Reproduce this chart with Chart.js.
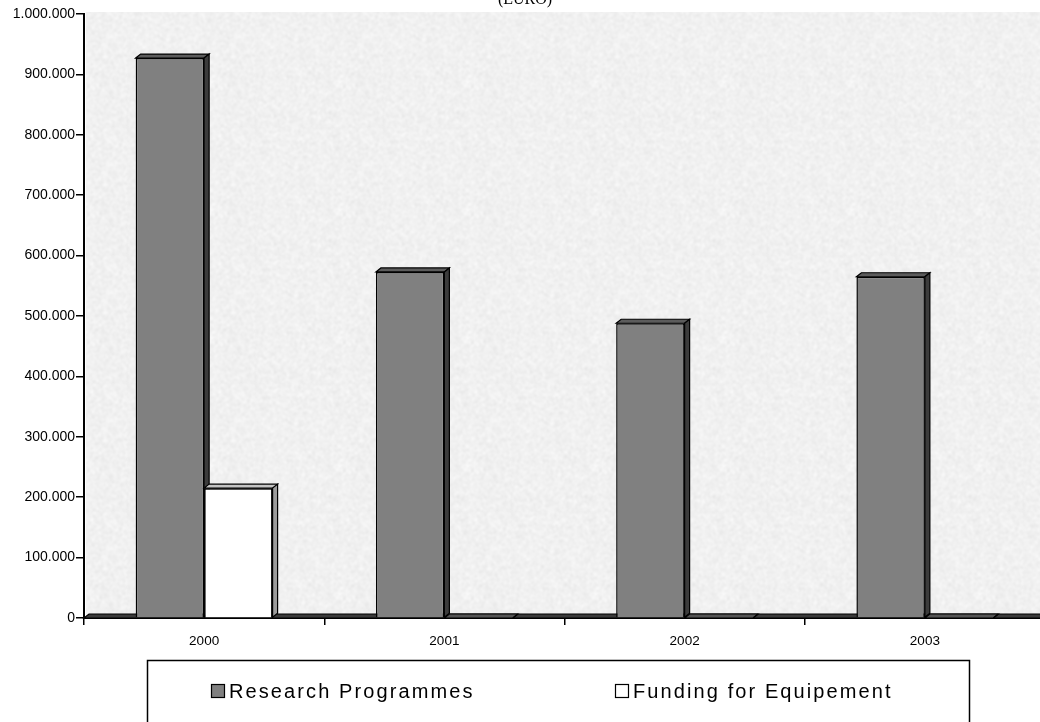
<!DOCTYPE html>
<html>
<head>
<meta charset="utf-8">
<title>Research funding (EURO)</title>
<script src="https://cdn.jsdelivr.net/npm/chart.js@4"></script>
<style>
  html, body { margin: 0; padding: 0; background: #fff; overflow: hidden; }
  #wrap { width: 1046px; height: 722px; position: relative; }
</style>
</head>
<body>
<div id="wrap"><canvas id="chart" width="1046" height="722"></canvas></div>
<script>
// ---- data ----
const years = ['2000', '2001', '2002', '2003'];
const researchProgrammes = [927000, 573000, 488000, 565000];
const fundingForEquipement = [215000, 0, 0, 0];
const seriesNames = ['Research Programmes', 'Funding for Equipement'];
const yTickValues = [0, 100000, 200000, 300000, 400000, 500000, 600000, 700000, 800000, 900000, 1000000];
const chartTitle = '(EURO)';

// ---- styling ----
const SANS = '"Liberation Sans", Arial, sans-serif';
const SERIF = '"Liberation Serif", "Times New Roman", serif';
const DEPTH_X = 5, DEPTH_Y = -4;
const seriesFill = ['#808080', '#ffffff'];
const seriesFaces = [
  { top: '#5c5c5c', side: '#3c3c3c' },
  { top: '#c4c4c4', side: '#9c9c9c' }
];

function dotThousands(v) {
  return String(v).replace(/\B(?=(\d{3})+(?!\d))/g, '.');
}

// speckled stone texture for the back wall
function makeWallPattern(ctx) {
  const size = 128;
  const raw = document.createElement('canvas');
  raw.width = raw.height = size;
  const rc = raw.getContext('2d');
  const img = rc.createImageData(size, size);
  for (let yy = 0; yy < size; yy++) {
    for (let xx = 0; xx < size; xx++) {
      const h = Math.sin(xx * 12.9898 + yy * 78.233) * 43758.5453;
      const n = h - Math.floor(h);
      const g = Math.round(226 + n * 29);
      const i = (yy * size + xx) * 4;
      img.data[i] = g; img.data[i + 1] = g; img.data[i + 2] = g; img.data[i + 3] = 255;
    }
  }
  rc.putImageData(img, 0, 0);
  const soft = document.createElement('canvas');
  soft.width = soft.height = size;
  const sc = soft.getContext('2d');
  sc.fillStyle = '#f1f1f1';
  sc.fillRect(0, 0, size, size);
  sc.filter = 'blur(1.1px)';
  for (let ox = -1; ox <= 1; ox++) for (let oy = -1; oy <= 1; oy++) {
    sc.drawImage(raw, ox * size, oy * size);
  }
  return ctx.createPattern(soft, 'repeat');
}

function fillPoly(ctx, pts, fill) {
  ctx.beginPath();
  ctx.moveTo(pts[0][0], pts[0][1]);
  for (let i = 1; i < pts.length; i++) ctx.lineTo(pts[i][0], pts[i][1]);
  ctx.closePath();
  ctx.fillStyle = fill;
  ctx.fill();
  ctx.stroke();
}

const wallAndFloor = {
  id: 'wallAndFloor',
  beforeDraw(chart) {
    const { ctx, chartArea: a } = chart;
    if (!chart.$wall) chart.$wall = makeWallPattern(ctx);
    ctx.save();
    ctx.fillStyle = chart.$wall;
    ctx.fillRect(a.left + 2, a.top + DEPTH_Y + 2, a.right - a.left, a.bottom - a.top - DEPTH_Y - 2);
    ctx.restore();
  },
  beforeDatasetsDraw(chart) {
    const { ctx, chartArea: a } = chart;
    ctx.save();
    ctx.strokeStyle = '#000';
    ctx.lineWidth = 1.2;
    fillPoly(ctx, [[a.left, a.bottom], [a.left + DEPTH_X, a.bottom + DEPTH_Y],
                   [a.right + DEPTH_X, a.bottom + DEPTH_Y], [a.right, a.bottom]], '#3a3a3a');
    ctx.restore();
  }
};

// top and side faces of each bar; the front series is drawn last so it
// covers the side faces of the bars behind it
const barDepth = {
  id: 'barDepth',
  afterDatasetsDraw(chart) {
    const ctx = chart.ctx;
    ctx.save();
    const faces = (bar, idx) => {
      const f = seriesFaces[idx];
      const p = bar.getProps(['x', 'y', 'base', 'width'], true);
      const l = p.x - p.width / 2, r = p.x + p.width / 2;
      const flat = Math.abs(p.base - p.y) < 1;
      ctx.strokeStyle = '#000';
      ctx.lineWidth = 1.2;
      fillPoly(ctx, [[l, p.y], [l + DEPTH_X, p.y + DEPTH_Y], [r + DEPTH_X, p.y + DEPTH_Y], [r, p.y]],
               flat ? '#555555' : f.top);
      fillPoly(ctx, [[r, p.y], [r + DEPTH_X, p.y + DEPTH_Y], [r + DEPTH_X, p.base + DEPTH_Y], [r, p.base]], f.side);
    };
    chart.getDatasetMeta(0).data.forEach(bar => faces(bar, 0));
    chart.getDatasetMeta(1).data.forEach(bar => {
      ctx.save();
      bar.draw(ctx);
      ctx.restore();
      faces(bar, 1);
    });
    ctx.restore();
  }
};

// unit caption at the top and boxed legend underneath
const captionAndLegend = {
  id: 'captionAndLegend',
  afterDraw(chart) {
    const ctx = chart.ctx;
    ctx.save();
    ctx.fillStyle = '#000';
    ctx.font = '16px ' + SERIF;
    ctx.textAlign = 'center';
    ctx.textBaseline = 'alphabetic';
    ctx.fillText(chartTitle, 525, 4);

    ctx.strokeStyle = '#000';
    ctx.lineWidth = 1.5;
    ctx.strokeRect(147.5, 660.5, 822, 90);

    const items = [
      { sx: 211, tx: 229 },
      { sx: 615, tx: 633 }
    ];
    ctx.font = '20px ' + SANS;
    ctx.textAlign = 'left';
    ctx.letterSpacing = '2.1px';
    items.forEach((it, i) => {
      ctx.fillStyle = seriesFill[i];
      ctx.lineWidth = 1.2;
      ctx.fillRect(it.sx, 684, 14, 14);
      ctx.strokeRect(it.sx + 0.5, 684.5, 13, 13);
      ctx.fillStyle = '#000';
      ctx.fillText(seriesNames[i], it.tx, 698);
    });
    ctx.restore();
  }
};

new Chart(document.getElementById('chart'), {
  type: 'bar',
  data: {
    labels: years,
    datasets: [
      { label: seriesNames[0], data: researchProgrammes, backgroundColor: seriesFill[0],
        borderColor: '#000', borderWidth: 1.5 },
      { label: seriesNames[1], data: fundingForEquipement, backgroundColor: seriesFill[1],
        borderColor: '#000', borderWidth: 1.5 }
    ]
  },
  options: {
    responsive: false,
    animation: false,
    devicePixelRatio: 1,
    datasets: { bar: { categoryPercentage: 0.57, barPercentage: 1.0 } },
    layout: { padding: { top: 14, right: 1, left: 0, bottom: 0 } },
    plugins: { legend: { display: false }, title: { display: false }, tooltip: { enabled: false } },
    scales: {
      x: {
        offset: true,
        grid: { display: true, offset: true, drawOnChartArea: false, drawTicks: true, tickLength: 7,
                color: '#000', lineWidth: 1.5 },
        border: { display: true, color: '#000', width: 2 },
        ticks: { color: '#000', font: { family: SANS, size: 13.5 }, padding: 8, maxRotation: 0 },
        afterFit(s) { s.height = 104; }
      },
      y: {
        min: 0, max: 1000000,
        afterBuildTicks(s) { s.ticks = yTickValues.map(v => ({ value: v })); },
        ticks: { color: '#000', font: { family: SANS, size: 14 }, padding: 1, callback: v => dotThousands(v) },
        grid: { drawOnChartArea: false, drawTicks: true, tickLength: 8, color: '#000', lineWidth: 1.5 },
        border: { display: true, color: '#000', width: 2 },
        afterFit(s) { s.width = 84; }
      }
    }
  },
  plugins: [wallAndFloor, barDepth, captionAndLegend]
});
</script>
</body>
</html>
